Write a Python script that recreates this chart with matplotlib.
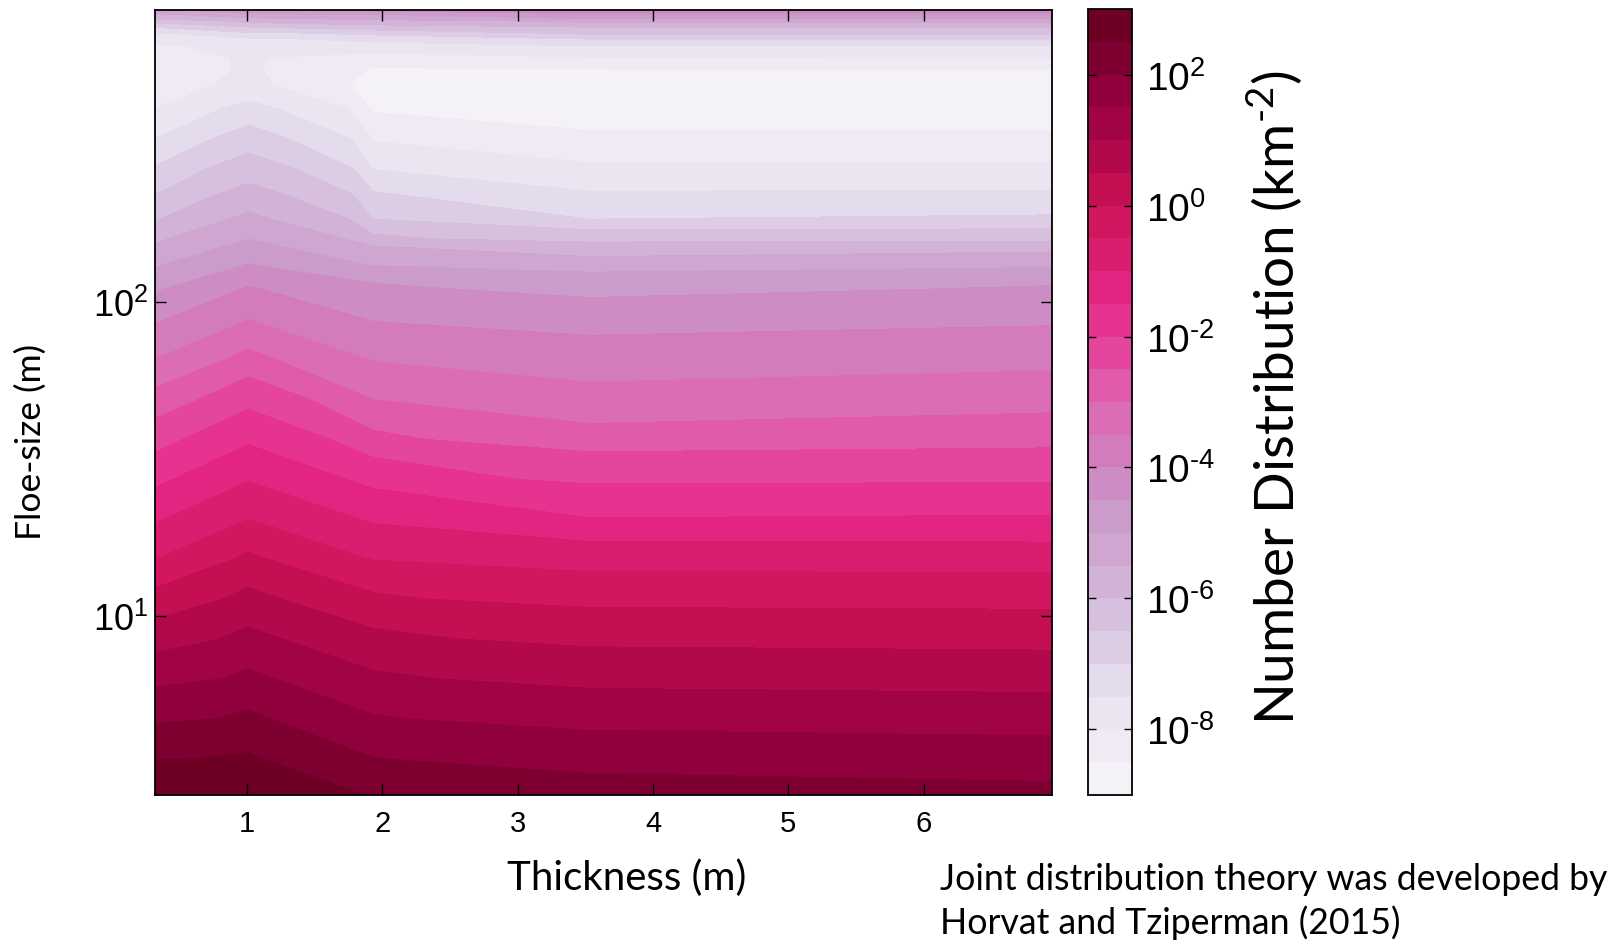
import matplotlib
matplotlib.use("Agg")
import matplotlib.pyplot as plt
import numpy as np
from matplotlib.colors import LogNorm
from matplotlib.ticker import NullLocator, FuncFormatter

plt.rcParams['font.family'] = ['Liberation Sans', 'DejaVu Sans']
plt.rcParams['mathtext.default'] = 'regular'
LABEL_FONT = ['Lato', 'DejaVu Sans']
HYPHEN = '\u2010'

# ice thickness categories (m)
thickness = [0.32, 1.01, 1.93, 3.53, 6.95]

# floe-size grid (m), bottom to top
floe_size = [2.69, 3.50, 4.69, 6.29, 8.43, 11.3, 15.2, 20.3, 27.2, 36.5,
             49.0, 65.7, 88.1, 109.7, 131.9, 158.5, 183.2, 220.3, 264.9, 329.9,
             411, 493, 551, 601, 652, 686, 717, 750, 784, 819, 851]

# log10 of the number distribution (km^-2), one list per thickness category
log_n_h032 = [2.97, 2.47, 1.87, 1.27, 0.68, 0.09, -0.53, -1.12, -1.73, -2.31,
              -2.91, -3.51, -4.14, -4.61, -5.15, -5.67, -6.07, -6.53, -6.97, -7.50,
              -8.00, -8.21, -8.28, -8.14, -8.04, -7.85, -7.54, -6.97, -6.37, -5.65, -5.20]
log_n_h101 = [2.96, 2.54, 2.06, 1.57, 1.09, 0.59, 0.05, -0.50, -1.07, -1.66,
              -2.28, -2.92, -3.53, -3.97, -4.50, -5.01, -5.42, -5.87, -6.31, -6.84,
              -7.39, -7.92, -7.96, -7.97, -7.93, -7.64, -7.12, -6.50, -5.90, -5.30, -4.60]
log_n_h193 = [2.43, 2.01, 1.53, 1.06, 0.58, 0.05, -0.55, -1.13, -1.78, -2.43,
              -3.02, -3.58, -4.06, -4.42, -5.11, -5.92, -6.50, -6.97, -7.53, -8.09,
              -8.60, -8.95, -8.55, -8.21, -7.77, -7.37, -6.90, -6.30, -5.70, -5.10, -4.40]
log_n_h353 = [2.19, 1.76, 1.29, 0.82, 0.34, -0.20, -0.84, -1.49, -2.18, -2.88,
              -3.38, -3.81, -4.25, -4.68, -5.38, -6.31, -7.00, -7.47, -7.94, -8.45,
              -8.68, -8.72, -8.50, -8.00, -7.51, -7.00, -6.43, -5.98, -5.42, -4.65, -4.20]
log_n_h695 = [2.10, 1.69, 1.23, 0.76, 0.30, -0.22, -0.85, -1.47, -2.12, -2.76,
              -3.26, -3.69, -4.12, -4.45, -5.27, -6.29, -6.95, -7.46, -7.94, -8.45,
              -8.68, -8.72, -8.49, -7.95, -7.51, -7.00, -6.43, -5.98, -5.42, -4.65, -4.20]

# contour levels every half decade
levels = 10.0 ** np.arange(-9, 3.01, 0.5)
cbar_ticks = [1e-8, 1e-6, 1e-4, 1e-2, 1e0, 1e2]

logN = np.column_stack([log_n_h032, log_n_h101, log_n_h193, log_n_h353, log_n_h695])
N = 10.0 ** logN


def pow10_label(v, pos):
    e = int(round(np.log10(v)))
    sign = HYPHEN if e < 0 else ''
    return '$\\mathdefault{10^{%s%d}}$' % (sign, abs(e))


W, H = 1612, 945
fig = plt.figure(figsize=(W / 100, H / 100), dpi=100)
ax = fig.add_axes([155 / W, 1 - 795.7 / H, 897.3 / W, 785 / H])
cax = fig.add_axes([1087.5 / W, 1 - 795.7 / H, 44.5 / W, 785.4 / H])

cs = ax.contourf(thickness, floe_size, N, levels=levels, cmap='PuRd',
                 norm=LogNorm(vmin=1e-9, vmax=1e3))

ax.set_yscale('log')
ax.set_xlim(0.32, 6.95)
ax.set_ylim(2.69, 851)
ax.set_xticks([1, 2, 3, 4, 5, 6])
ax.set_yticks([10, 100])
ax.yaxis.set_major_formatter(FuncFormatter(pow10_label))
ax.yaxis.set_minor_locator(NullLocator())
ax.tick_params(direction='in', top=True, right=True, length=8, width=1)
ax.tick_params(axis='x', labelsize=21, pad=10)
ax.tick_params(axis='y', labelsize=26, pad=5)
for s in ax.spines.values():
    s.set_linewidth(1.3)

cbar = fig.colorbar(cs, cax=cax)
cbar.set_ticks(cbar_ticks)
cbar.ax.yaxis.set_major_formatter(FuncFormatter(pow10_label))
cbar.minorticks_off()
cbar.ax.tick_params(direction='in', left=True, right=True, length=6, width=1,
                    labelsize=28, pad=10)
cbar.outline.set_linewidth(1.3)

fig.text(627 / W, 1 - 890 / H, 'Thickness (m)', family=LABEL_FONT, fontsize=29,
         ha='center', va='baseline')
fig.text(31 / W, 1 - 442 / H, 'Floe-size (m)', family=LABEL_FONT, fontsize=25.5,
         rotation=90, ha='center', va='center')
fig.text(1276 / W, 1 - 398 / H, 'Number Distribution (km$^{%s2}$)' % HYPHEN,
         family=LABEL_FONT, fontsize=39.6, rotation=90, ha='center', va='center')
fig.text(940 / W, 1 - 890 / H, 'Joint distribution theory was developed by',
         family=LABEL_FONT, fontsize=25.7, ha='left', va='baseline')
fig.text(940 / W, 1 - 934.5 / H, 'Horvat and Tziperman (2015)',
         family=LABEL_FONT, fontsize=25.7, ha='left', va='baseline')

fig.savefig('out.png', dpi=100)
